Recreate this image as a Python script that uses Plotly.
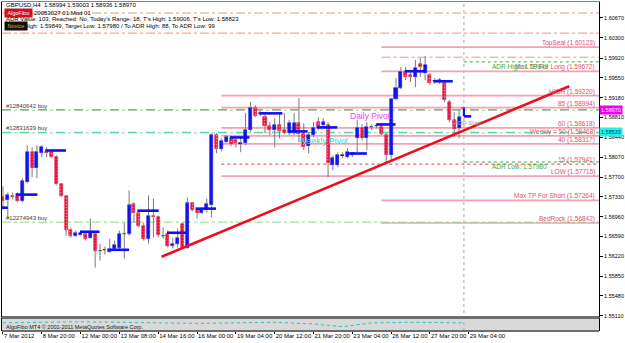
import plotly.graph_objects as go

# ---------------- data ----------------
bars = list(range(96))
opens = [1.57319,1.57263,1.57338,1.57338,1.57244,1.57600,1.58162,1.57862,1.58143,1.58162,
         1.58162,1.58068,1.57562,1.57338,1.56720,1.56607,1.56626,1.56645,1.56570,1.56645,
         1.56327,1.56345,1.56308,1.56364,1.56383,1.56645,1.56645,1.57188,1.57038,1.56795,
         1.56551,1.56982,1.56945,1.56607,1.56645,1.56420,1.56458,1.56832,1.56383,1.57207,
         1.57094,1.57020,1.57076,1.57169,1.58480,1.58218,1.58349,1.58424,1.58386,1.58330,
         1.58330,1.58573,1.58985,1.58892,1.58817,1.58648,1.58573,1.58667,1.58573,1.58517,
         1.58517,1.58704,1.58498,1.58274,1.58480,1.58723,1.58667,1.58667,1.57918,1.57918,
         1.58105,1.58068,1.58105,1.58424,1.58611,1.58424,1.58629,1.58648,1.58629,1.58480,
         1.58105,1.59154,1.59360,1.59659,1.59603,1.59566,1.59809,1.59640,1.59603,1.59491,
         1.59472,1.59453,1.59098,1.58761,1.58611,1.58994]
highs = [1.57525,1.57413,1.57413,1.57413,1.57675,1.58293,1.58255,1.58293,1.58293,1.58255,
         1.58199,1.58105,1.57581,1.57357,1.56757,1.56701,1.56701,1.56701,1.56926,1.56663,
         1.56458,1.56401,1.56551,1.56514,1.56701,1.56851,1.57450,1.57226,1.57076,1.56851,
         1.57357,1.57300,1.56982,1.56757,1.56701,1.56570,1.56738,1.56851,1.57319,1.57226,
         1.57113,1.57113,1.57300,1.58517,1.58517,1.58424,1.58480,1.58461,1.58442,1.58442,
         1.58892,1.59098,1.59041,1.58948,1.58892,1.58723,1.58798,1.58892,1.58892,1.58761,
         1.58892,1.59172,1.58704,1.58536,1.58723,1.58817,1.58798,1.58723,1.58105,1.58162,
         1.58162,1.58236,1.58162,1.58761,1.58685,1.58723,1.58685,1.58685,1.58704,1.58517,
         1.59172,1.59547,1.59753,1.59753,1.59697,1.59884,1.59921,1.59959,1.59640,1.59547,
         1.59547,1.59509,1.59135,1.58910,1.58948,1.59003]
lows = [1.57094,1.56945,1.57282,1.57226,1.57226,1.57581,1.57694,1.57675,1.58068,1.58068,
        1.58049,1.57544,1.57319,1.56607,1.56570,1.56588,1.56607,1.56514,1.56551,1.56009,
        1.56140,1.56252,1.56289,1.56345,1.56345,1.56177,1.56607,1.56851,1.56757,1.56514,
        1.56458,1.56570,1.56570,1.56551,1.56383,1.56364,1.56383,1.56364,1.56364,1.57057,
        1.56926,1.57001,1.57038,1.56945,1.58143,1.58180,1.58330,1.58274,1.58255,1.58162,
        1.58293,1.58536,1.58817,1.58835,1.58517,1.58480,1.58255,1.58424,1.58498,1.58480,
        1.58480,1.58349,1.58199,1.58143,1.58442,1.58573,1.58629,1.57694,1.57824,1.57881,
        1.58049,1.58049,1.58068,1.58162,1.58386,1.58199,1.58573,1.58611,1.58480,1.57974,
        1.58012,1.59135,1.59341,1.59509,1.59472,1.59378,1.59566,1.59509,1.59416,1.59435,
        1.59435,1.59098,1.58723,1.58442,1.58424,1.58936]
closes = [1.57244,1.57357,1.57330,1.57244,1.57619,1.58162,1.57862,1.58162,1.58255,1.58143,
          1.58068,1.57562,1.57338,1.56720,1.56607,1.56663,1.56663,1.56551,1.56663,1.56327,
          1.56320,1.56340,1.56364,1.56439,1.56645,1.56640,1.57169,1.57020,1.56795,1.56551,
          1.56982,1.56945,1.56626,1.56600,1.56420,1.56458,1.56570,1.56383,1.57207,1.57094,
          1.57020,1.57076,1.57188,1.58480,1.58218,1.58367,1.58442,1.58311,1.58330,1.58325,
          1.58573,1.58985,1.58835,1.58885,1.58648,1.58573,1.58667,1.58555,1.58517,1.58704,
          1.58704,1.58498,1.58255,1.58480,1.58611,1.58611,1.58723,1.57956,1.58049,1.58105,
          1.58100,1.58162,1.58143,1.58611,1.58424,1.58629,1.58635,1.58650,1.58498,1.58105,
          1.59154,1.59360,1.59659,1.59566,1.59566,1.59734,1.59753,1.59790,1.59453,1.59485,
          1.59509,1.59135,1.58761,1.58592,1.58817,1.58970]

date_tick_bars = [0, 8, 16, 24, 32, 40, 48, 56, 64, 72, 80, 88, 96]
date_labels = ["7 Mar 2012", "8 Mar 20:00", "12 Mar 00:00", "13 Mar 08:00", "14 Mar 16:00",
               "16 Mar 00:00", "19 Mar 04:00", "20 Mar 12:00", "21 Mar 20:00", "23 Mar 04:00",
               "26 Mar 12:00", "27 Mar 20:00", "29 Mar 04:00"]
price_ticks = [1.55110, 1.55480, 1.55850, 1.56220, 1.56590, 1.56960, 1.57330, 1.57700,
               1.58070, 1.58440, 1.58810, 1.59180, 1.59550, 1.59920, 1.60300, 1.60670]

level_names = ["TopSeal", "Max TP For Long", "HIGH", "85", "60", "Weekly = 50", "40", "15",
               "LOW", "Max TP For Short", "BedRock"]
level_prices = [1.60123, 1.59672, 1.59220, 1.58994, 1.58618, 1.58468, 1.58317, 1.57941,
                1.57715, 1.57264, 1.56842]
level_start_bar = [78, 78, 45, 45, 45, 45, 45, 45, 45, 78, 78]

sr_prices = [1.60760, 1.60385, 1.59936]
sr_start_bar = [-1, -1, 78]

order_labels = ["#12840642 buy", "#12831639 buy", "#12274943 buy"]
order_prices = [1.58955, 1.58532, 1.56866]

adr_names = ["ADR High", "ADR Low"]
adr_prices = [1.59849, 1.57980]
adr_start_bar = 95

pivot_start = [-0.4, 2.6, 8.7, 15.9, 22.0, 27.7, 33.8, 39.7, 46.8, 52.9, 58.8, 64.7, 71.0, 76.9, 82.8, 88.7, 95.0]
pivot_end = [1.0, 7.1, 13.0, 19.9, 26.0, 32.1, 37.8, 43.9, 50.8, 57.6, 62.8, 68.9, 75.0, 80.9, 87.0, 92.7, 96.5]
pivot_price = [1.57128, 1.57372, 1.58195, 1.56679, 1.56342, 1.57072, 1.56660, 1.57110, 1.58439,
               1.58888, 1.58551, 1.58626, 1.58139, 1.58681, 1.59674, 1.59487, 1.58832]

trend_bars = [32.7, 116.7]
trend_prices = [1.56211, 1.59393]

osc_bars = [0, 8, 16, 24, 32, 40, 48, 56, 64, 70, 76, 84, 95]
osc_values = [0.3, 0.4, 0.5, 0.4, 0.3, 0.2, 0.3, 0.4, 0.1, -0.4, 0.3, 0.4, 0.3]

# ---------------- geometry helpers (layout only) ----------------
W, H = 625, 343
ML, MR, MT, MB = 1, 19, 2, 11
PW, PH = W - ML - MR, H - MT - MB
XMIN, XMAX = -0.203, 122.84
YMIN, YMAX = 1.55088, 1.60966


def px(xp):
    return (xp - ML) / PW


def py(yp):
    return (H - MB - yp) / PH


FONT = "Liberation Sans, Arial, sans-serif"
PINK = "#F3A2B1"
LBL = "#E0506E"

fig = go.Figure()

# ---- candles: wicks ----
wx, wy = [], []
for i, o, h, l, c in zip(bars, opens, highs, lows, closes):
    top, bot = max(o, c), min(o, c)
    wx += [i, i, None, i, i, None]
    wy += [h, top, None, bot, l, None]
fig.add_trace(go.Scatter(x=wx, y=wy, mode="lines", line=dict(color="#7A7A7A", width=1),
                         hoverinfo="skip", showlegend=False))

# ---- candles: bodies ----
for up in (True, False):
    xs, hs, bs, cols = [], [], [], []
    for i, o, c in zip(bars, opens, closes):
        if (c >= o) != up:
            continue
        xs.append(i)
        hgt = abs(c - o)
        doji = hgt < 0.00008
        hs.append(max(hgt, 0.00006))
        bs.append(min(o, c))
        cols.append("#000000" if doji else ("#1414E6" if up else "#E0143C"))
    marker = dict(color=cols, line=dict(width=0.6, color=cols))
    if not up:
        marker["pattern"] = dict(shape=".", fgcolor="#F4C0C8", size=3, solidity=0.25)
    fig.add_trace(go.Bar(x=xs, y=hs, base=bs, width=0.62, marker=marker,
                         hoverinfo="skip", showlegend=False))

shapes = []
# subwindow background
shapes.append(dict(type="rect", xref="paper", yref="paper", x0=0, x1=1, y0=py(330), y1=py(319),
                   fillcolor="#D9D9D9", line=dict(width=0), layer="below"))
# separators
shapes.append(dict(type="rect", xref="paper", yref="paper", x0=0, x1=1, y0=py(319), y1=py(316),
                   fillcolor="#6E6E6E", line=dict(width=0)))
shapes.append(dict(type="rect", xref="paper", yref="paper", x0=0, x1=1, y0=py(332), y1=py(330),
                   fillcolor="#6E6E6E", line=dict(width=0)))

# salmon dash-dot lines
for p, s in zip(sr_prices, sr_start_bar):
    shapes.append(dict(type="line", xref="x", yref="y", x0=max(s, XMIN), x1=XMAX, y0=p, y1=p,
                       line=dict(color="#F5907E", width=1, dash="dashdot"), layer="below"))

# level lines
for n, p, s in zip(level_names, level_prices, level_start_bar):
    if n == "15":
        ln = dict(color="#E23A3A", width=1, dash="dot")
    else:
        ln = dict(color=PINK, width=1.7)
    shapes.append(dict(type="line", xref="x", yref="y", x0=s, x1=XMAX, y0=p, y1=p, line=ln, layer="below"))

# order lines
order_styles = [("#E030E0", "dash"), ("#20E0E8", "dash"), (None, None)]
for (col, dsh), p in zip(order_styles, order_prices):
    if col:
        shapes.append(dict(type="line", xref="x", yref="y", x0=XMIN, x1=XMAX, y0=p, y1=p,
                           line=dict(color=col, width=1.2, dash=dsh), layer="below"))
    shapes.append(dict(type="line", xref="x", yref="y", x0=XMIN, x1=XMAX, y0=p - 0.00008, y1=p - 0.00008,
                       line=dict(color="#86CF86", width=0.9, dash="dashdot"), layer="below"))

# ADR lines
for p in adr_prices:
    shapes.append(dict(type="line", xref="x", yref="y", x0=adr_start_bar, x1=XMAX, y0=p, y1=p,
                       line=dict(color="#3DAA3D", width=1, dash="dot"), layer="below"))

# vertical dotted separator
shapes.append(dict(type="line", xref="x", yref="paper", x0=adr_start_bar, x1=adr_start_bar,
                   y0=py(331), y1=1, line=dict(color="#A8A8A8", width=1, dash="dot"), layer="below"))

fig.update_layout(shapes=shapes)

# ---- pivots ----
pvx, pvy = [], []
for a, b, p in zip(pivot_start, pivot_end, pivot_price):
    pvx += [a, b, None]
    pvy += [p, p, None]
fig.add_trace(go.Scatter(x=pvx, y=pvy, mode="lines", line=dict(color="#1010F0", width=2.6),
                         hoverinfo="skip", showlegend=False))
fig.add_trace(go.Scatter(x=[pivot_start[-1], pivot_start[-1]], y=[closes[-1] + 0.0001, pivot_price[-1]],
                         mode="lines", line=dict(color="#1010F0", width=2.2), hoverinfo="skip", showlegend=False))

# ---- trend line ----
fig.add_trace(go.Scatter(x=trend_bars, y=trend_prices, mode="lines", line=dict(color="#E8101E", width=2.6),
                         hoverinfo="skip", showlegend=False))

# ---- oscillator subwindow ----
fig.add_trace(go.Scatter(x=osc_bars, y=osc_values, xaxis="x2", yaxis="y2", mode="lines",
                         line=dict(color="#20C8C8", width=1, dash="dot"), hoverinfo="skip", showlegend=False))

ann = []
# level labels
for n, p in zip(level_names, level_prices):
    ann.append(dict(xref="paper", yref="y", x=px(604), y=p, xanchor="right", yanchor="bottom",
                    text=f"{n} ({p:.5f})", showarrow=False, font=dict(family=FONT, size=6.5, color=LBL),
                    yshift=-2))
# ADR labels
for n, p in zip(adr_names, adr_prices):
    ann.append(dict(xref="paper", yref="y", x=px(496), y=p, xanchor="left", yanchor="top",
                    text=f"{n}: {p:.5f}", showarrow=False, font=dict(family=FONT, size=6.5, color="#3DAA3D"),
                    yshift=1))
# order labels
for n, p in zip(order_labels, order_prices):
    ann.append(dict(xref="paper", yref="y", x=px(3), y=p, xanchor="left", yanchor="bottom",
                    text=n, showarrow=False, font=dict(family=FONT, size=6, color="#404040"), yshift=-1))

ann += [
    dict(xref="paper", yref="paper", x=px(352), y=py(116), xanchor="left", yanchor="middle",
         text="Daily Pivot", showarrow=False, font=dict(family=FONT, size=8.5, color="#F040F0")),
    dict(xref="paper", yref="paper", x=px(300), y=py(141), xanchor="left", yanchor="middle",
         text="Weekly Pivot", showarrow=False, font=dict(family=FONT, size=8.5, color="#30D8E0")),
    dict(xref="paper", yref="paper", x=px(457), y=py(123), xanchor="left", yanchor="middle",
         text="ADR Start", showarrow=False, font=dict(family=FONT, size=6, color="#A0A0A0")),
    dict(xref="paper", yref="paper", x=px(3), y=py(5), xanchor="left", yanchor="middle",
         text="GBPUSD,H4  1.58994 1.59003 1.58936 1.58970", showarrow=False,
         font=dict(family=FONT, size=6, color="#000000")),
    dict(xref="paper", yref="paper", x=px(31), y=py(12.5), xanchor="left", yanchor="middle",
         text="20053027 01.Mod 01", showarrow=False, font=dict(family=FONT, size=6, color="#000000")),
    dict(xref="paper", yref="paper", x=px(3), y=py(12.5), xanchor="left", yanchor="middle",
         text="&nbsp;AlgoFibo&nbsp;", showarrow=False, bgcolor="#D01020",
         font=dict(family=FONT, size=5.5, color="#FFFFFF")),
    dict(xref="paper", yref="paper", x=px(3), y=py(19.5), xanchor="left", yanchor="middle",
         text="ADR Value: 103, Reached: No, Today's Range: 18, T's High: 1.59006, T's Low: 1.58823",
         showarrow=False, font=dict(family=FONT, size=6, color="#000000")),
    dict(xref="paper", yref="paper", x=px(3), y=py(26.5), xanchor="left", yanchor="middle",
         text="Target High: 1.59849, Target Low: 1.57980 / To ADR High: 88, To ADR Low: 99",
         showarrow=False, font=dict(family=FONT, size=6, color="#000000")),
    dict(xref="paper", yref="paper", x=px(3), y=py(26), xanchor="left", yanchor="middle",
         text="&nbsp;Novice&nbsp;", showarrow=False, bgcolor="#101010",
         font=dict(family=FONT, size=5.5, color="#E0B020")),
    dict(xref="paper", yref="paper", x=px(3), y=py(326.5), xanchor="left", yanchor="middle",
         text="AlgoFibo MT4 © 2001-2011 MetaQuotes Software Corp.", showarrow=False,
         font=dict(family=FONT, size=5.5, color="#202020")),
    # axis price boxes
    dict(xref="paper", yref="y", x=1.0, y=order_prices[0], xanchor="left", yanchor="middle",
         text="1.58970", showarrow=False, bgcolor="#F000F0", borderpad=1,
         font=dict(family=FONT, size=5.5, color="#FFFFFF")),
    dict(xref="paper", yref="y", x=1.0, y=order_prices[1], xanchor="left", yanchor="middle",
         text="1.58533", showarrow=False, bgcolor="#20F0F0", borderpad=1,
         font=dict(family=FONT, size=5.5, color="#004040")),
]

fig.update_layout(
    annotations=ann,
    width=W, height=H,
    margin=dict(l=ML, r=MR, t=MT, b=MB),
    paper_bgcolor="#FFFFFF", plot_bgcolor="#FFFFFF",
    barmode="overlay", bargap=0, showlegend=False,
    font=dict(family=FONT, size=6, color="#000000"),
    xaxis=dict(range=[XMIN, XMAX], showgrid=False, zeroline=False, showticklabels=False,
               showline=True, linecolor="#808080", linewidth=1, mirror=True, anchor="y", ticks=""),
    yaxis=dict(domain=[py(317), 1], range=[YMIN, YMAX], side="right", showgrid=False, zeroline=False,
               tickvals=price_ticks, ticktext=[f"{v:.5f}" for v in price_ticks],
               ticks="outside", ticklen=3, tickcolor="#000000", tickfont=dict(family=FONT, size=5.5),
               showline=True, linecolor="#000000", linewidth=1, mirror=True),
    xaxis2=dict(range=[XMIN, XMAX], anchor="y2", matches="x", showgrid=False, zeroline=False,
                tickvals=date_tick_bars, ticktext=date_labels, ticks="outside", ticklen=3,
                tickangle=0, tickcolor="#000000", ticklabelposition="outside right",
                tickfont=dict(family=FONT, size=6), showline=True, linecolor="#000000", mirror=True),
    yaxis2=dict(domain=[py(330), py(319)], range=[-1, 1], side="right", showgrid=False,
                zeroline=False, showticklabels=False, ticks="", showline=True, linecolor="#000000",
                mirror=True),
)

fig.write_html("out.html")
